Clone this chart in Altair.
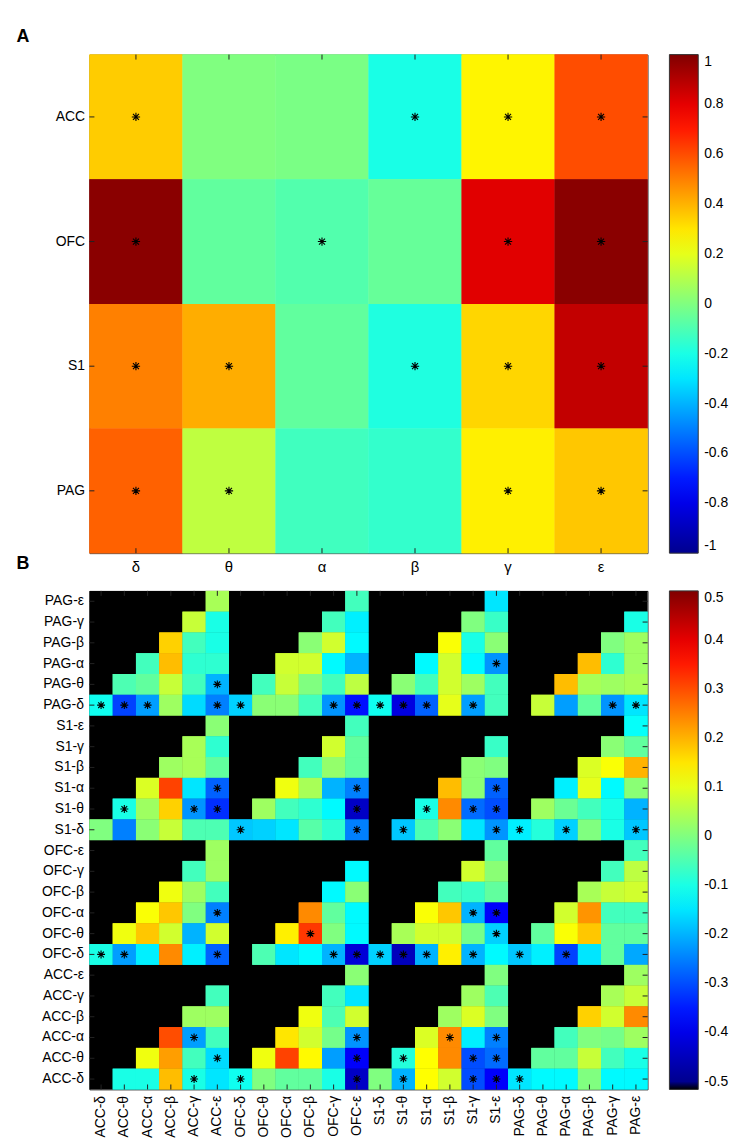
import altair as alt
import pandas as pd

FONT = "Liberation Sans"
N = None

regions = ["ACC", "OFC", "S1", "PAG"]
bands = ["δ", "θ", "α", "β", "γ", "ε"]

# ---------------- Panel A (rows: regions, columns: bands) ----------------
A_ACC = [0.35, 0.0, -0.01, -0.2, 0.27, 0.6]
A_OFC = [0.98, -0.06, -0.09, -0.05, 0.81, 0.98]
A_S1 = [0.5, 0.41, -0.06, -0.19, 0.33, 0.87]
A_PAG = [0.56, 0.125, -0.125, -0.15, 0.28, 0.36]

A_STARS_ACC = ["δ", "β", "γ", "ε"]
A_STARS_OFC = ["δ", "α", "γ", "ε"]
A_STARS_S1 = ["δ", "θ", "β", "γ", "ε"]
A_STARS_PAG = ["δ", "θ", "γ", "ε"]

A_TICKS = [-1, -0.8, -0.6, -0.4, -0.2, 0, 0.2, 0.4, 0.6, 0.8, 1]

# ---------------- Panel B (24 x 24, None = masked / black) ----------------
# columns: ACC-δ .. ACC-ε, OFC-δ .. OFC-ε, S1-δ .. S1-ε, PAG-δ .. PAG-ε
B_PAG_e = [N, N, N, N, N, 0.04, N, N, N, N, N, -0.06, N, N, N, N, N, -0.15, N, N, N, N, N, N]
B_PAG_g = [N, N, N, N, 0.07, -0.1, N, N, N, N, -0.06, -0.14, N, N, N, N, 0.0, -0.07, N, N, N, N, N, -0.1]
B_PAG_b = [N, N, N, 0.17, -0.06, -0.1, N, N, N, 0.01, 0.08, -0.13, N, N, N, 0.12, -0.1, 0.01, N, N, N, N, 0.0, 0.03]
B_PAG_a = [N, N, -0.06, 0.19, -0.08, -0.08, N, N, 0.08, 0.08, -0.13, -0.2, N, N, -0.13, 0.08, -0.13, -0.23, N, N, N, 0.19, -0.08, 0.03]
B_PAG_t = [N, -0.05, -0.03, 0.07, -0.06, -0.2, N, -0.06, 0.07, 0.0, -0.06, 0.06, N, 0.01, -0.06, 0.08, 0.03, -0.06, N, N, 0.19, 0.04, 0.03, 0.04]
B_PAG_d = [-0.11, -0.31, -0.22, 0.03, -0.16, -0.25, -0.17, 0.01, 0.01, -0.06, -0.23, -0.36, -0.11, -0.41, -0.28, 0.1, -0.22, -0.06, N, 0.07, -0.22, -0.03, -0.23, -0.15]
B_S1_e = [N, N, N, N, N, 0.01, N, N, N, N, N, -0.06, N, N, N, N, N, N, N, N, N, N, N, -0.12]
B_S1_g = [N, N, N, N, 0.04, -0.08, N, N, N, N, 0.08, -0.03, N, N, N, N, N, -0.07, N, N, N, N, 0.01, -0.03]
B_S1_b = [N, N, N, 0.03, 0.04, -0.03, N, N, N, -0.06, 0.02, -0.03, N, N, N, N, 0.01, 0.0, N, N, N, 0.09, 0.12, 0.2]
B_S1_a = [N, N, 0.09, 0.31, -0.15, -0.28, N, N, 0.11, 0.04, -0.2, -0.25, N, N, N, 0.19, 0.01, -0.28, N, N, -0.14, 0.1, -0.13, 0.01]
B_S1_t = [N, -0.1, 0.03, 0.17, -0.23, -0.33, N, 0.03, -0.06, -0.08, -0.13, -0.44, N, N, -0.1, 0.24, -0.27, -0.3, N, 0.03, -0.02, -0.06, -0.1, -0.2]
B_S1_d = [0.0, -0.25, 0.01, 0.07, -0.05, -0.05, -0.18, -0.17, -0.15, -0.04, -0.08, -0.25, N, -0.18, -0.05, 0.01, -0.15, -0.23, -0.14, -0.09, -0.17, 0.0, -0.1, -0.18]
B_OFC_e = [N, N, N, N, N, 0.03, N, N, N, N, N, N, N, N, N, N, N, -0.03, N, N, N, N, N, -0.06]
B_OFC_g = [N, N, N, N, -0.06, 0.03, N, N, N, N, N, -0.13, N, N, N, N, 0.08, 0.01, N, N, N, N, -0.06, 0.06]
B_OFC_b = [N, N, N, 0.11, 0.03, -0.06, N, N, N, N, -0.13, 0.01, N, N, N, -0.06, -0.07, -0.03, N, N, N, 0.04, 0.07, 0.08]
B_OFC_a = [N, N, 0.12, 0.18, 0.0, -0.25, N, N, N, 0.24, -0.03, -0.13, N, N, 0.12, 0.18, -0.2, -0.38, N, N, 0.08, 0.23, -0.06, -0.06]
B_OFC_t = [N, 0.11, 0.18, 0.08, -0.2, 0.08, N, N, 0.14, 0.32, 0.0, -0.13, N, 0.04, 0.08, 0.08, -0.01, -0.17, N, -0.03, 0.12, 0.18, -0.03, -0.03]
B_OFC_d = [-0.1, -0.22, -0.14, 0.24, -0.14, -0.28, N, -0.05, -0.15, -0.13, -0.2, -0.42, -0.17, -0.45, -0.2, 0.14, -0.2, -0.13, -0.18, -0.14, -0.31, -0.15, -0.03, -0.21]
B_ACC_e = [N, N, N, N, N, N, N, N, N, N, N, 0.01, N, N, N, N, N, 0.0, N, N, N, N, N, 0.03]
B_ACC_g = [N, N, N, N, N, -0.06, N, N, N, N, -0.06, -0.15, N, N, N, N, 0.03, -0.05, N, N, N, N, 0.04, 0.07]
B_ACC_b = [N, N, N, N, 0.03, 0.03, N, N, N, 0.11, -0.05, 0.08, N, N, N, 0.03, 0.09, 0.0, N, N, N, 0.17, 0.08, 0.24]
B_ACC_a = [N, N, N, 0.3, -0.22, -0.06, N, N, 0.15, 0.08, -0.01, -0.23, N, N, 0.09, 0.24, -0.14, -0.25, N, N, -0.06, 0.0, -0.01, 0.03]
B_ACC_t = [N, N, 0.11, 0.22, -0.06, -0.16, N, 0.11, 0.31, 0.13, -0.22, -0.38, N, -0.09, 0.125, 0.24, -0.3, -0.27, N, -0.03, -0.03, 0.07, -0.06, -0.1]
B_ACC_d = [N, -0.1, -0.1, 0.19, -0.1, -0.15, -0.11, 0.0, -0.03, -0.03, -0.1, -0.44, 0.0, -0.2, 0.125, 0.08, -0.3, -0.38, -0.15, -0.13, -0.13, 0.0, -0.13, -0.13]

# significant cells (column indices) per row
B_STARS_PAG_d = [0, 1, 2, 5, 6, 10, 11, 12, 13, 14, 16, 22, 23]
B_STARS_PAG_t = [5]
B_STARS_PAG_a = [17]
B_STARS_S1_a = [5, 11, 17]
B_STARS_S1_t = [1, 4, 5, 11, 14, 16, 17]
B_STARS_S1_d = [6, 11, 13, 17, 18, 20, 23]
B_STARS_OFC_a = [5, 16, 17]
B_STARS_OFC_t = [9, 17]
B_STARS_OFC_d = [0, 1, 5, 10, 11, 12, 13, 14, 16, 18, 20]
B_STARS_ACC_a = [4, 11, 15, 17]
B_STARS_ACC_t = [5, 11, 13, 16, 17]
B_STARS_ACC_d = [4, 6, 11, 13, 16, 17, 18]

B_TICKS = [-0.5, -0.4, -0.3, -0.2, -0.1, 0, 0.1, 0.2, 0.3, 0.4, 0.5]

# ---------------- build tables ----------------
a_rows = {"ACC": A_ACC, "OFC": A_OFC, "S1": A_S1, "PAG": A_PAG}
a_stars = {"ACC": A_STARS_ACC, "OFC": A_STARS_OFC, "S1": A_STARS_S1, "PAG": A_STARS_PAG}
dfA = pd.DataFrame([{"row": r, "col": b, "v": v}
                    for r, vals in a_rows.items() for b, v in zip(bands, vals)])
dfAs = pd.DataFrame([{"row": r, "col": b} for r, lst in a_stars.items() for b in lst])

cols_B = [f"{r}-{b}" for r in regions for b in bands]
rows_B = [f"{r}-{b}" for r in reversed(regions) for b in reversed(bands)]
b_lists = [B_PAG_e, B_PAG_g, B_PAG_b, B_PAG_a, B_PAG_t, B_PAG_d,
           B_S1_e, B_S1_g, B_S1_b, B_S1_a, B_S1_t, B_S1_d,
           B_OFC_e, B_OFC_g, B_OFC_b, B_OFC_a, B_OFC_t, B_OFC_d,
           B_ACC_e, B_ACC_g, B_ACC_b, B_ACC_a, B_ACC_t, B_ACC_d]
b_star_lists = {"PAG-δ": B_STARS_PAG_d, "PAG-θ": B_STARS_PAG_t, "PAG-α": B_STARS_PAG_a,
                "S1-α": B_STARS_S1_a, "S1-θ": B_STARS_S1_t, "S1-δ": B_STARS_S1_d,
                "OFC-α": B_STARS_OFC_a, "OFC-θ": B_STARS_OFC_t, "OFC-δ": B_STARS_OFC_d,
                "ACC-α": B_STARS_ACC_a, "ACC-θ": B_STARS_ACC_t, "ACC-δ": B_STARS_ACC_d}
dfB = pd.DataFrame([{"row": rl, "col": cols_B[c], "v": v}
                    for rl, vals in zip(rows_B, b_lists)
                    for c, v in enumerate(vals) if v is not None])
dfBs = pd.DataFrame([{"row": rl, "col": cols_B[c]} for rl, lst in b_star_lists.items() for c in lst])

# ---------------- styling ----------------
W, H = 562, 502
TICK = "#222222"
ASTER = "M-1,0L1,0M0,-1L0,1M-0.72,-0.72L0.72,0.72M-0.72,0.72L0.72,-0.72"
LABEL_EXPR = "datum.value < 0 ? '-' + format(-datum.value, '.1~f') : format(datum.value, '.1~f')"
jet = ["#00008f", "#0000ff", "#00ffff", "#ffff00", "#ff0000", "#800000"]

scaleA = alt.Scale(domain=[-1, -0.75, -0.25, 0.25, 0.75, 1], range=jet, interpolate="rgb")
scaleB = alt.Scale(domain=[-0.516, -0.5005, -0.5, -0.375, -0.125, 0.125, 0.375, 0.5],
                   range=["#000000", "#000000"] + jet, interpolate="rgb")


def legend(values):
    return alt.Legend(type="gradient", title=None, orient="right", direction="vertical",
                      values=values, gradientLength=H, gradientThickness=29, offset=22, padding=0,
                      labelFontSize=14, labelFont=FONT, labelColor="#000", labelOffset=6,
                      labelExpr=LABEL_EXPR, labelOverlap=False,
                      gradientStrokeColor="#333", gradientStrokeWidth=1)


def panel(df, dfs, rows, cols, scale, leg_values, xaxis, yaxis, star_size, black_bg):
    xs = alt.Scale(domain=cols, paddingInner=0, paddingOuter=0)
    ys = alt.Scale(domain=rows, paddingInner=0, paddingOuter=0)
    X = alt.X("col:N", scale=xs, axis=xaxis)
    Y = alt.Y("row:N", scale=ys, axis=yaxis)
    C = alt.Color("v:Q", scale=scale, legend=legend(leg_values))
    layers = []
    if black_bg:
        layers.append(alt.Chart(pd.DataFrame({"k": [0]})).mark_rect(color="black").encode(
            x=alt.value(0), x2=alt.value(W), y=alt.value(0), y2=alt.value(H)))
    # cells drawn twice so anti-aliased seams between neighbours disappear
    layers.append(alt.Chart(df).mark_rect().encode(x=X, y=Y, color=C))
    layers.append(alt.Chart(df).mark_rect().encode(x=X, y=Y, color=C))
    layers.append(alt.Chart(dfs).mark_point(shape=ASTER, size=star_size, filled=False,
                                            stroke="black", strokeWidth=1.1, opacity=1).encode(x=X, y=Y))
    dcols = pd.DataFrame({"col": cols})
    drows = pd.DataFrame({"row": rows})
    layers.append(alt.Chart(dcols).mark_rule(color=TICK, strokeWidth=1).encode(
        x=X, y=alt.value(H - 5), y2=alt.value(H)))
    layers.append(alt.Chart(dcols).mark_rule(color=TICK, strokeWidth=1).encode(
        x=X, y=alt.value(0), y2=alt.value(5)))
    layers.append(alt.Chart(drows).mark_rule(color=TICK, strokeWidth=1).encode(
        y=Y, x=alt.value(0), x2=alt.value(5)))
    layers.append(alt.Chart(drows).mark_rule(color=TICK, strokeWidth=1).encode(
        y=Y, x=alt.value(W - 5), x2=alt.value(W)))
    return layers


axA_x = alt.Axis(title=None, labelAngle=0, labelFontSize=15, labelFont=FONT, labelColor="#000",
                 labelPadding=6, domain=False, ticks=False)
axA_y = alt.Axis(title=None, labelFontSize=14, labelFont=FONT, labelColor="#000",
                 labelPadding=5, domain=False, ticks=False)
axB_x = alt.Axis(title=None, labelAngle=270, labelFontSize=14, labelFont=FONT, labelColor="#000",
                 labelPadding=6, domain=False, ticks=False)
axB_y = alt.Axis(title=None, labelFontSize=14, labelFont=FONT, labelColor="#000",
                 labelPadding=6, domain=False, ticks=False)

layersA = panel(dfA, dfAs, regions, bands, scaleA, A_TICKS, axA_x, axA_y, 70, False)
layersA.append(alt.Chart(pd.DataFrame({"t": ["A"]})).mark_text(
    fontSize=18, fontWeight="bold", font=FONT, color="#000", align="center", baseline="middle").encode(
    text="t:N", x=alt.value(-67), y=alt.value(-18)))
layersA.append(alt.Chart(pd.DataFrame({"t": ["B"]})).mark_text(
    fontSize=18, fontWeight="bold", font=FONT, color="#000", align="center", baseline="middle").encode(
    text="t:N", x=alt.value(-67), y=alt.value(H + 11)))

chartA = alt.layer(*layersA).properties(width=W, height=H)

layersB = panel(dfB, dfBs, rows_B, cols_B, scaleB, B_TICKS, axB_x, axB_y, 64, True)
chartB = alt.layer(*layersB).properties(width=W, height=H)

chart = alt.vconcat(chartA, chartB, spacing=15).resolve_scale(
    color="independent").resolve_legend(color="independent").properties(
    padding={"left": 8, "top": 15, "right": 0, "bottom": 0}
).configure(font=FONT).configure_view(stroke="#404040", strokeWidth=1)

chart.save("out.html", embed_options={"renderer": "svg", "actions": False})
